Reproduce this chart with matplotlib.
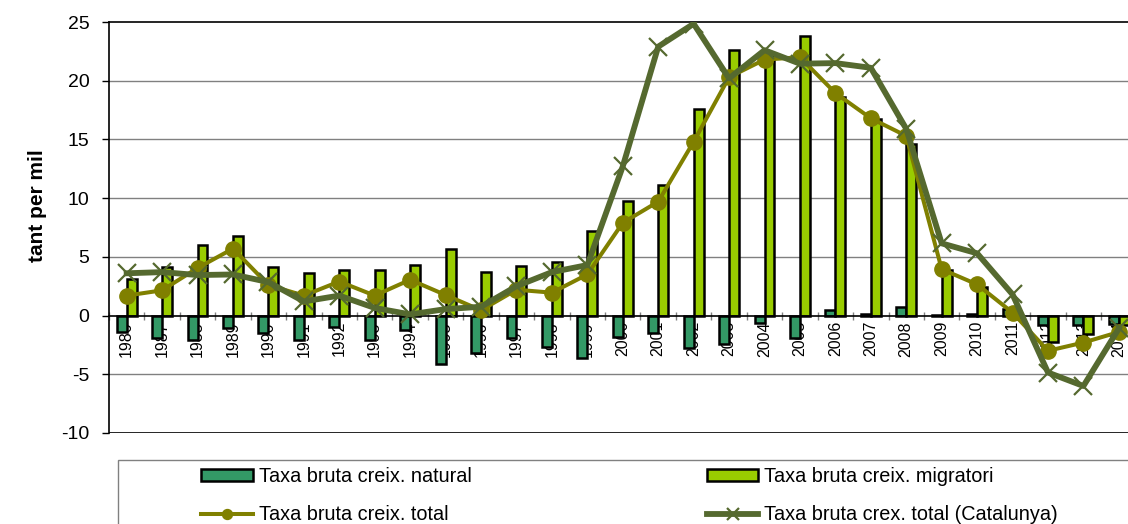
import matplotlib.pyplot as plt
from matplotlib.patches import Rectangle
import numpy as np

plt.rcParams['font.family'] = ['Liberation Sans', 'DejaVu Sans']
plt.rcParams['axes.unicode_minus'] = False

years = [str(y) for y in range(1986, 2015)]
natural = [-1.4, -1.9, -2.05, -1.05, -1.5, -2.05, -0.95, -2.1, -1.2, -4.1,
           -3.2, -1.95, -2.7, -3.6, -1.8, -1.5, -2.8, -2.4, -0.65, -1.95,
           0.45, 0.1, 0.75, 0.08, 0.15, 0.55, -0.8, -0.8, -0.75]
migratori = [3.1, 4.1, 6.05, 6.75, 4.1, 3.6, 3.85, 3.85, 4.3, 5.7,
             3.7, 4.2, 4.6, 7.2, 9.75, 11.15, 17.6, 22.65, 22.3, 23.85,
             18.6, 16.7, 14.6, 3.85, 2.45, -0.3, -2.25, -1.55, -0.8]
total = [1.7, 2.15, 4.05, 5.7, 2.6, 1.7, 2.9, 1.7, 3.05, 1.75,
         0.45, 2.2, 1.95, 3.5, 7.9, 9.7, 14.8, 20.3, 21.8, 22.0,
         18.95, 16.8, 15.3, 3.95, 2.65, 0.25, -3.0, -2.3, -1.4]
catalunya = [3.6, 3.7, 3.45, 3.5, 2.85, 1.2, 1.7, 0.65, 0.1, 0.55,
             0.75, 2.5, 3.7, 4.3, 12.7, 22.9, 24.85, 20.2, 22.6, 21.45,
             21.5, 21.1, 15.9, 6.15, 5.3, 1.8, -4.85, -6.0, -1.1]

x = np.arange(len(years))
w = 0.28

fig = plt.figure(figsize=(11.28, 5.24), dpi=100)
ax = fig.add_axes([0.0966, 0.1737, 0.911, 0.7843])

# gridlines
for v in [20, 15, 10, 5, -5]:
    ax.axhline(v, color='#808080', lw=1, zorder=0)
ax.axhline(-10, color='black', lw=1.2, zorder=0)

b1 = ax.bar(x - w / 2, natural, w, color='#339966', edgecolor='black', lw=1.8,
            label='Taxa bruta creix. natural', zorder=2)
b2 = ax.bar(x + w / 2, migratori, w, color='#99CC00', edgecolor='black', lw=1.8,
            label='Taxa bruta creix. migratori', zorder=2)
l1, = ax.plot(x, total, color='#808000', lw=2.9, marker='o', ms=11,
              label='Taxa bruta creix. total', zorder=3)
l2, = ax.plot(x, catalunya, color='#55692F', lw=4.2, marker='x', ms=13, mew=1.6,
              label='Taxa bruta crex. total (Catalunya)', zorder=4)

ax.set_xlim(-0.5, len(years) - 0.5)
ax.set_ylim(-10, 25)
ax.set_yticks(range(-10, 26, 5))
ax.tick_params(axis='y', labelsize=14, length=5, pad=9, width=1)

ax.spines['bottom'].set_position(('data', 0))
ax.spines['bottom'].set_linewidth(1.2)
ax.spines['right'].set_visible(False)
ax.spines['top'].set_linewidth(1.2)
ax.spines['left'].set_linewidth(1.2)

ax.set_xticks(np.arange(len(years) + 1) - 0.5)
ax.set_xticklabels([])
ax.tick_params(axis='x', which='major', direction='inout', length=6,
               color='#808080', width=1)
ax.set_xticks(x, minor=True)
ax.set_xticklabels(years, minor=True, rotation=90, fontsize=11.5, va='top')
ax.tick_params(axis='x', which='minor', length=0, pad=4)

ax.set_ylabel('tant per mil', fontsize=15, fontweight='bold')
ax.yaxis.set_label_coords(-0.060, 0.552)

fig.patches.append(Rectangle((118 / 1128, -0.05), 1.0, 0.05 + 1 - 460 / 524,
                             transform=fig.transFigure, fill=False,
                             edgecolor='#808080', lw=1))

fig.legend(handles=[b1, l1, b2, l2], ncol=2, loc='upper left',
           bbox_to_anchor=(201 / 1128, 1 - 467 / 524), frameon=False,
           fontsize=14.3, handlelength=2.6, handleheight=0.55,
           handletextpad=0.3, labelspacing=0.97, columnspacing=11.85,
           borderpad=0, borderaxespad=0, markerscale=0.65)

fig.savefig('out.png', dpi=100)
